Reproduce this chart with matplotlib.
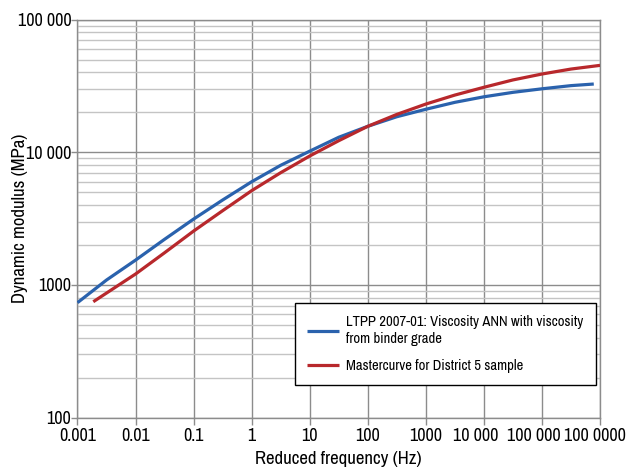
import numpy as np
import matplotlib
matplotlib.use("Agg")
import matplotlib.pyplot as plt
from matplotlib import font_manager
from matplotlib.transforms import ScaledTranslation
from matplotlib.ticker import LogLocator, FixedLocator, FixedFormatter, NullFormatter

# Look for a narrow sans font, the reference uses an Arial Narrow look
names = {f.name for f in font_manager.fontManager.ttflist}
candidates = ["Liberation Sans Narrow", "Arial Narrow", "Archivo Narrow", "PT Sans Narrow",
              "Roboto Condensed", "Pragati Narrow", "Fira Sans Condensed", "Asap Condensed",
              "Encode Sans Condensed", "Barlow Semi Condensed", "IBM Plex Sans Condensed",
              "Open Sans Condensed", "Sofia Sans Condensed", "Saira Semi Condensed"]
FONT = next((c for c in candidates if c in names), "Liberation Sans")
NARROW = FONT != "Liberation Sans"
plt.rcParams["font.family"] = [FONT, "DejaVu Sans"]

# Data (reduced frequency in Hz, modulus in MPa)
ann_freq = [0.001, 0.00316, 0.01, 0.0316, 0.1, 0.316, 1, 3.16, 10, 31.6,
            100, 316, 1000, 3162, 1e4, 3.16e4, 1e5, 3.16e5, 7.8e5]
ann_mod = [736, 1090, 1540, 2210, 3140, 4370, 6000, 7980, 10200, 12980,
           15700, 18540, 21100, 23800, 26200, 28300, 30100, 31800, 32700]

mc_freq = [0.00187, 0.01, 0.0316, 0.1, 0.316, 1, 3.16, 10, 31.6,
           100, 316, 1000, 3162, 1e4, 3.16e4, 1e5, 3.16e5, 1e6]
mc_mod = [748, 1210, 1750, 2550, 3630, 5140, 7020, 9380, 12230,
          15700, 19300, 23100, 27000, 30900, 35100, 38900, 42400, 45200]

x_ticks = [1e-3, 1e-2, 1e-1, 1, 10, 100, 1e3, 1e4, 1e5, 1e6]
x_labels = ["0.001", "0.01", "0.1", "1", "10", "100", "1000",
            "10 000", "100 000", "100 0000"]
y_ticks = [100, 1000, 10000, 100000]
y_labels = ["100", "1000", "10 000", "100 000"]

labels = ["LTPP 2007-01: Viscosity ANN with viscosity\nfrom binder grade",
          "Mastercurve for District 5 sample"]

BLUE = "#2a62ad"
RED = "#b8282c"
GRID = "#8c8c8c"

tick_fs = 13 if NARROW else 10.5
label_fs = 13.5 if NARROW else 10.5
legend_fs = 10.5 if NARROW else 9.5

fig = plt.figure(figsize=(6.27, 4.69), dpi=100)
ax = fig.add_axes([0.1236, 0.1094, 0.8334, 0.8488])

ax.plot(ann_freq, ann_mod, color=BLUE, lw=2.3, solid_capstyle="butt", label=labels[0], zorder=3)
ax.plot(mc_freq, mc_mod, color=RED, lw=2.3, solid_capstyle="butt", label=labels[1], zorder=3)

ax.set_xscale("log")
ax.set_yscale("log")
ax.set_xlim(1e-3, 1e6)
ax.set_ylim(100, 100000)

ax.xaxis.set_major_locator(FixedLocator(x_ticks))
ax.xaxis.set_major_formatter(FixedFormatter(x_labels))
ax.xaxis.set_minor_locator(FixedLocator([]))
ax.yaxis.set_major_locator(FixedLocator(y_ticks))
ax.yaxis.set_major_formatter(FixedFormatter(y_labels))
ax.yaxis.set_minor_locator(LogLocator(base=10, subs=np.arange(2, 10)))
ax.yaxis.set_minor_formatter(NullFormatter())

ax.grid(True, which="major", axis="both", color=GRID, lw=1.0)
ax.grid(True, which="minor", axis="y", color="#c4c4c4", lw=1.0)
ax.set_axisbelow(True)

for s in ax.spines.values():
    s.set_color(GRID)
    s.set_linewidth(1.0)

ax.tick_params(axis="x", which="major", direction="out", length=5, width=1,
               color=GRID, labelsize=tick_fs, pad=2.5)
ax.tick_params(axis="y", which="major", direction="out", length=4, width=1,
               color=GRID, labelsize=tick_fs, pad=0.5)
ax.tick_params(axis="y", which="minor", length=0)

# labels with a space sit a little left of their tick in the original
for lbl in ax.get_xticklabels():
    txt = lbl.get_text()
    if " " in txt:
        dx = -5 if txt == "100 0000" else -8
        lbl.set_transform(lbl.get_transform() + ScaledTranslation(dx / 100, 0, fig.dpi_scale_trans))

ax.set_xlabel("Reduced frequency (Hz)", fontsize=label_fs)
ax.set_ylabel("Dynamic modulus (MPa)", fontsize=label_fs)
ax.xaxis.set_label_coords(0.5, -0.083)
ax.yaxis.set_label_coords(-0.095, 0.5)

leg = ax.legend(loc="upper left", bbox_to_anchor=(0.416, 0.288), fontsize=legend_fs,
                frameon=True, fancybox=False, edgecolor="black", framealpha=1,
                handlelength=2.2, handletextpad=0.45, labelspacing=0.9,
                borderpad=0.85, borderaxespad=0)
leg.get_frame().set_linewidth(1.0)

fig.savefig("out.png", dpi=100)
